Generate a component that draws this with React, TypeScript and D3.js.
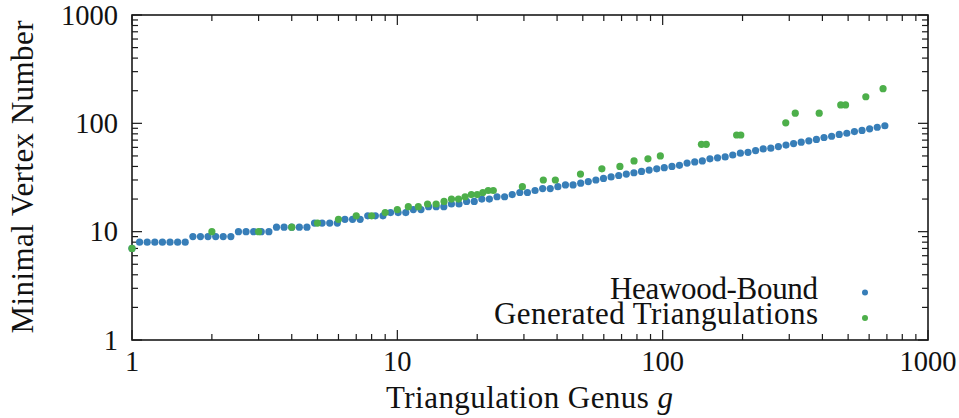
import React from "react";
import * as d3 from "d3";

const heawoodG = [1, 1.068, 1.141, 1.219, 1.302, 1.391, 1.486, 1.587, 1.696, 1.811, 1.934, 2.067, 2.207, 2.358, 2.519, 2.691, 2.874, 3.07, 3.28, 3.504, 3.743, 3.999, 4.272, 4.563, 4.874, 5.206, 5.562, 5.941, 6.346, 6.779, 7.242, 7.735, 8.263, 8.827, 9.429, 10.07, 10.76, 11.49, 12.28, 13.11, 14.01, 14.97, 15.99, 17.08, 18.24, 19.49, 20.82, 22.23, 23.75, 25.37, 27.1, 28.95, 30.93, 33.04, 35.29, 37.7, 40.27, 43.01, 45.95, 49.09, 52.44, 56.02, 59.84, 63.92, 68.28, 72.94, 77.92, 83.24, 88.91, 94.98, 101.4, 108.4, 115.7, 123.6, 132.1, 141.1, 150.7, 161.0, 172.0, 183.7, 196.3, 209.7, 224.0, 239.3, 255.6, 273.0, 291.6, 311.5, 332.8, 355.5, 379.7, 405.6, 433.3, 462.8, 494.4, 528.1, 564.1, 602.6, 643.7, 687.7];
const heawoodV = [7, 8, 8, 8, 8, 8, 8, 8, 9, 9, 9, 9, 9, 9, 10, 10, 10, 10, 10, 11, 11, 11, 11, 11, 12, 12, 12, 12, 13, 13, 13, 14, 14, 14, 15, 15, 15, 16, 16, 17, 17, 17, 18, 18, 19, 19, 20, 20, 21, 21, 22, 23, 23, 24, 25, 25, 26, 27, 27, 28, 29, 30, 31, 32, 33, 34, 35, 36, 37, 38, 39, 40, 41, 43, 44, 45, 47, 48, 49, 51, 53, 54, 56, 58, 59, 61, 63, 65, 67, 69, 71, 74, 76, 79, 81, 84, 86, 89, 92, 95];

const generatedG = [1, 2, 3, 4, 5, 6, 7, 8, 9, 10, 11, 12, 13, 14, 15, 16, 17, 18, 19, 20, 21, 22, 23, 29.6, 35.5, 39.4, 49, 59, 69, 78, 88, 98, 140, 146, 190, 197, 291, 316, 389, 469, 489, 583, 677];
const generatedV = [7, 10, 10, 11, 12, 13, 14, 14, 15, 16, 17, 17, 18, 18, 19, 20, 20, 21, 22, 22, 23, 24, 24, 26, 30, 30, 34, 38, 40, 45, 47, 50, 64, 64, 78, 78, 101, 124, 124, 148, 148, 176, 209];

const tickLabels = ["1", "10", "100", "1000"];
const tickValues = [1, 10, 100, 1000];
const seriesNames = ["Heawood-Bound", "Generated Triangulations"];
const seriesColors = ["#377eb8", "#4daf4a"];
const seriesTextWidths = [208, 324];

const W = 959;
const H = 418;
const FONT = "'Liberation Serif', 'Times New Roman', serif";

export default function App() {
  const x = d3.scaleLog().domain([1, 1000]).range([132, 928]);
  const y = d3.scaleLog().domain([1, 1000]).range([340, 15]);
  const allTicks = x.ticks();
  const isMajor = (v: number) => Math.abs(Math.log10(v) - Math.round(Math.log10(v))) < 1e-9;
  const [x0, x1] = x.range();
  const [y0, y1] = y.range();
  const axisColor = "#1a1a1a";
  const fs = 28.5;
  const fsT = 31;

  const heawood = heawoodG.map((g, i) => ({ g, v: heawoodV[i] }));
  const generated = generatedG.map((g, i) => ({ g, v: generatedV[i] }));

  return (
    <svg width={W} height={H} style={{ position: "absolute", left: 0, top: 0, background: "#fff" }}>
      <rect x={0} y={0} width={W} height={H} fill="#fff" />
      {allTicks.map((t) => {
        const len = isMajor(t) ? 10 : 6;
        const px = x(t);
        const py = y(t);
        return (
          <g key={"t" + t} stroke={axisColor} strokeWidth={1.2}>
            <line x1={px} x2={px} y1={y0} y2={y0 - len} />
            <line x1={px} x2={px} y1={y1} y2={y1 + len} />
            <line x1={x0} x2={x0 + len} y1={py} y2={py} />
            <line x1={x1} x2={x1 - len} y1={py} y2={py} />
          </g>
        );
      })}
      <rect x={x0} y={y1} width={x1 - x0} height={y0 - y1} fill="none" stroke={axisColor} strokeWidth={1.6} />
      {tickValues.map((t, i) => (
        <text key={"xl" + t} x={x(t)} y={371} textAnchor="middle" fontFamily={FONT} fontSize={fs} fill="#111">
          {tickLabels[i]}
        </text>
      ))}
      {tickValues.map((t, i) => (
        <text key={"yl" + t} x={118} y={y(t) + 9.5} textAnchor="end" fontFamily={FONT} fontSize={fs} fill="#111">
          {tickLabels[i]}
        </text>
      ))}
      <text
        x={386}
        y={408}
        textLength={287}
        lengthAdjust="spacing"
        fontFamily={FONT}
        fontSize={fsT}
        fill="#111"
      >
        Triangulation Genus <tspan fontStyle="italic">g</tspan>
      </text>
      <text
        transform={`translate(33, ${(y0 + y1) / 2 + 156}) rotate(-90)`}
        textLength={313}
        lengthAdjust="spacing"
        fontFamily={FONT}
        fontSize={fsT}
        fill="#111"
      >
        Minimal Vertex Number
      </text>
      {heawood.map((d, i) => (
        <circle key={"h" + i} cx={x(d.g)} cy={y(d.v)} r={3.6} fill={seriesColors[0]} />
      ))}
      {generated.map((d, i) => (
        <circle key={"n" + i} cx={x(d.g)} cy={y(d.v)} r={3.6} fill={seriesColors[1]} />
      ))}
      {seriesNames.map((name, i) => (
        <g key={"lg" + i}>
          <text
            x={818 - seriesTextWidths[i]}
            y={299 + i * 25}
            textLength={seriesTextWidths[i]}
            lengthAdjust="spacing"
            fontFamily={FONT}
            fontSize={fsT}
            fill="#111"
          >
            {name}
          </text>
          <circle cx={865} cy={292.5 + i * 25.5} r={3} fill={seriesColors[i]} />
        </g>
      ))}
    </svg>
  );
}
